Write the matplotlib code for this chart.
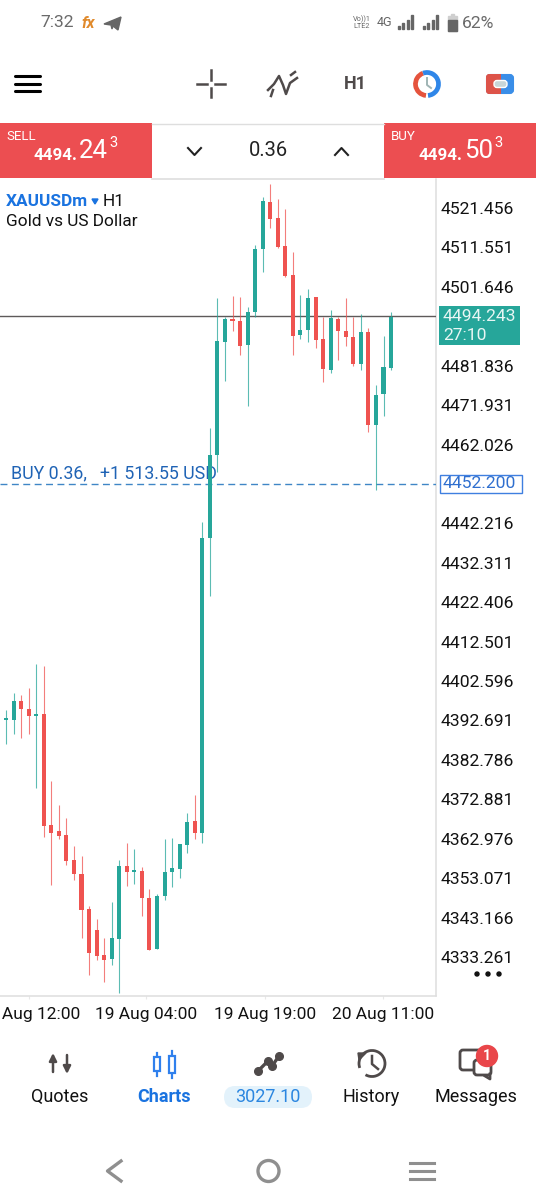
# XAUUSDm H1 mobile chart screenshot

import matplotlib
matplotlib.use('Agg')
import matplotlib.pyplot as plt
from matplotlib.patches import Arc, Circle, FancyBboxPatch, Polygon, Rectangle

plt.rcParams['font.family'] = ['Roboto', 'DejaVu Sans']

opens = [4392.7, 4392.9, 4397.7, 4395.6, 4393.9, 4394.3, 4366.4, 4364.9, 4363.8, 4357.6,
         4354.1, 4345.3, 4340.0, 4333.7, 4332.7, 4337.8, 4356.2, 4354.7, 4354.9, 4348.1,
         4335.3, 4348.6, 4354.6, 4355.4, 4361.5, 4367.4, 4364.5, 4438.5, 4459.3, 4487.9,
         4493.6, 4493.1, 4487.0, 4495.2, 4511.2, 4523.0, 4518.9, 4511.9, 4504.6, 4489.6,
         4490.8, 4499.1, 4488.5, 4480.7, 4493.6, 4490.6, 4489.1, 4482.3, 4490.3, 4466.9,
         4474.6, 4481.3]
highs = [4395.2, 4399.7, 4399.0, 4400.8, 4406.9, 4406.4, 4377.5, 4371.5, 4368.2, 4361.1,
         4358.6, 4346.2, 4342.9, 4338.0, 4347.1, 4357.6, 4361.8, 4360.3, 4355.9, 4350.3,
         4349.2, 4362.9, 4363.1, 4361.6, 4369.4, 4374.0, 4442.6, 4466.3, 4498.8, 4494.1,
         4499.3, 4499.2, 4496.7, 4512.2, 4524.3, 4527.6, 4523.7, 4521.1, 4510.3, 4499.6,
         4501.0, 4499.2, 4494.1, 4495.8, 4494.1, 4498.8, 4494.1, 4494.7, 4491.4, 4477.1,
         4489.3, 4495.3]
lows = [4386.8, 4389.4, 4388.4, 4389.3, 4375.7, 4363.3, 4351.3, 4362.8, 4356.5, 4352.6,
        4338.1, 4328.8, 4332.5, 4327.1, 4331.2, 4324.3, 4351.2, 4351.6, 4343.6, 4335.0,
        4335.3, 4347.5, 4350.8, 4353.2, 4359.5, 4363.0, 4361.8, 4424.0, 4455.2, 4478.0,
        4490.5, 4484.4, 4471.8, 4494.1, 4505.4, 4516.5, 4511.3, 4504.0, 4484.4, 4488.5,
        4487.9, 4486.2, 4477.7, 4480.1, 4483.3, 4486.9, 4481.8, 4480.7, 4465.3, 4450.6,
        4469.2, 4480.7]
closes = [4393.2, 4397.7, 4395.6, 4393.9, 4394.3, 4366.3, 4364.3, 4363.7, 4357.5, 4354.0,
          4345.1, 4334.3, 4333.6, 4332.5, 4338.0, 4356.1, 4354.6, 4354.9, 4348.0, 4335.0,
          4348.7, 4354.6, 4355.6, 4361.6, 4367.2, 4364.5, 4438.5, 4459.4, 4488.0, 4493.6,
          4493.1, 4486.8, 4495.2, 4511.1, 4523.2, 4518.8, 4511.6, 4504.3, 4489.4, 4490.8,
          4498.8, 4488.3, 4481.0, 4493.8, 4490.5, 4489.1, 4482.3, 4490.2, 4466.9, 4474.5,
          4481.5, 4494.1]

price_ticks = [4521.456, 4511.551, 4501.646, 4481.836, 4471.931, 4462.026, 4442.216, 4432.311,
               4422.406, 4412.501, 4402.596, 4392.691, 4382.786, 4372.881, 4362.976, 4353.071,
               4343.166, 4333.261]
time_ticks = [3.0, 18.6, 34.3, 49.9]
time_labels = ['18 Aug 12:00', '19 Aug 04:00', '19 Aug 19:00', '20 Aug 11:00']
current_price = 4494.243
order_price = 4452.200

UP = '#26a69a'
DOWN = '#ef5350'
BLUE = '#1a73e0'
ICON = '#4f4a4a'
LINE = '#dedede'

fig = plt.figure(figsize=(5.36, 12), dpi=100, facecolor='white')

# chart area, x: candle number, y: price
ax = fig.add_axes([0, 1 - 996 / 1200, 436 / 536, (996 - 179) / 1200])
ax.set_xlim(-6 / 7.55, 430 / 7.55)
ax.set_ylim(4521.456 - 788 / 3.98, 4521.456 + 29 / 3.98)
ax.set_zorder(1)
ax.patch.set_alpha(0)

# whole screen overlay in pixels for the app chrome
ui = fig.add_axes([0, 0, 1, 1])
ui.set_xlim(0, 536)
ui.set_ylim(1200, 0)
ui.axis('off')
ui.set_zorder(2)


def draw_candles():
    """
    Candles: wick first, then body
    """
    for i in range(len(opens)):
        color = DOWN if closes[i] < opens[i] else UP
        ax.vlines(i, lows[i], highs[i], color=color, linewidth=0.8, alpha=0.75, zorder=4)
        bottom = min(opens[i], closes[i])
        height = max(abs(closes[i] - opens[i]), 0.35)
        ax.bar(i, height, bottom=bottom, width=0.53, color=color, linewidth=0, zorder=5)


def style_axes():
    ax.yaxis.tick_right()
    ax.set_yticks(price_ticks, [f'{p:.3f}' for p in price_ticks])
    ax.set_xticks(time_ticks, time_labels)
    ax.tick_params(axis='y', length=0, pad=3.5, labelsize=12.6, labelcolor='#111111')
    ax.tick_params(axis='x', length=2, width=0.8, color='#e8e8e8', pad=6, labelsize=12.5, labelcolor='#111111')
    for side in ['top', 'left']:
        ax.spines[side].set_visible(False)
    for side in ['right', 'bottom']:
        ax.spines[side].set_color(LINE)
        ax.spines[side].set_linewidth(1.1)


def draw_price_lines():
    ax.axhline(current_price, color='#5e5a5a', linewidth=1.0, zorder=3)
    ax.axhline(order_price, color='#3f86c6', linewidth=1.0, linestyle=(0, (5, 3.2)), zorder=3)
    ui.add_patch(Rectangle((438.7, 306), 81.5, 39, facecolor=UP, edgecolor='none'))
    ui.text(443, 316.5, f'{current_price:.3f}', color='#e8f6f4', fontsize=12.6, va='center')
    ui.text(443, 336, '27:10', color='#e8f6f4', fontsize=12.6, va='center')
    ui.add_patch(Rectangle((439.8, 474.5), 82, 18.5, facecolor='white', edgecolor='#3f7fe0', linewidth=1))
    ui.text(443, 484, f'{order_price:.3f}', color='#2f6fcf', fontsize=12.6, va='center')
    # sits under the candles like in the app
    ax.text(11, 473, 'BUY 0.36,   +1 513.55 USD', transform=ui.transData, color='#1f63b5',
            fontsize=12.8, va='center', zorder=2)
    for x in [477, 488, 499]:
        ui.add_patch(Circle((x, 974), 2, color='#111111'))


def draw_chart_title():
    ui.text(6, 201, 'XAUUSDm', color=BLUE, fontsize=12.4, fontweight='bold', va='center')
    ui.add_patch(Polygon([(92, 199), (98, 199), (95, 204)], color=BLUE))
    ui.text(102.5, 201, 'H1', color='#111111', fontsize=12.4, va='center')
    ui.text(6, 222, 'Gold vs US Dollar', color='#111111', fontsize=12.4, va='center')


def draw_status_bar():
    ui.text(40, 22.5, '7:32', color='#6a6a6a', fontsize=12.6, va='center')
    ui.text(81, 23, 'fx', color='#e08a2c', fontsize=11.5, style='italic', fontweight='bold', va='center')
    ui.add_patch(Polygon([(104, 24), (121, 17), (118, 30), (113, 26), (112, 29), (111, 25)], color='#666666'))
    ui.text(353, 19, 'Vo))1', color='#666666', fontsize=5.2, va='center')
    ui.text(353, 26, 'LTE2', color='#666666', fontsize=5.2, va='center')
    ui.text(377, 23, '4G', color='#666666', fontsize=9, va='center')
    for start, tall in [(398, [3, 6, 9, 14]), (423, [3, 6, 9, 14])]:
        for n, h in enumerate(tall):
            ui.add_patch(Rectangle((start + n * 4.4, 29 - h), 2, h, color='#666666'))
    ui.add_patch(Rectangle((448, 16), 9, 14.5, color='#cfcfcf'))
    ui.add_patch(Rectangle((448, 20), 9, 10.5, color='#666666'))
    ui.add_patch(Rectangle((451, 14), 3, 2, color='#cfcfcf'))
    ui.text(462, 23, '62%', color='#6a6a6a', fontsize=12.6, va='center')


def draw_toolbar():
    for y in [76, 83.5, 91]:
        ui.plot([15, 40], [y, y], color='black', linewidth=2.2, solid_capstyle='round')
    for x0, y0, x1, y1 in [(197, 84, 207, 84), (215, 84, 225, 84), (211, 70, 211, 80), (211, 88, 211, 97)]:
        ui.plot([x0, x1], [y0, y1], color=ICON, linewidth=1.8)
    ui.plot([268, 274, 279, 283, 286, 290, 297], [90, 84, 76, 85, 94, 83, 78], color=ICON, linewidth=1.8)
    ui.plot([271, 273], [96, 90], color=ICON, linewidth=1.8)
    ui.plot([291, 295], [75, 72], color=ICON, linewidth=1.8)
    ui.text(355, 84, 'H1', color=ICON, fontsize=13, fontweight='bold', ha='center', va='center')
    ui.add_patch(Arc((427, 84), 23, 23, theta1=95, theta2=250, color='#e5533d', linewidth=3.4))
    ui.add_patch(Arc((427, 84), 23, 23, theta1=250, theta2=85, color='#2f86e8', linewidth=3.4))
    ui.plot([427, 427, 431], [78, 85, 88], color='#9fb4b4', linewidth=1.4)
    ui.add_patch(FancyBboxPatch((487, 75), 26, 18, boxstyle='round,pad=0,rounding_size=3',
                                facecolor='#3a8ee8', edgecolor='#3a8ee8', linewidth=1.5))
    ui.add_patch(FancyBboxPatch((486, 74), 14, 20, boxstyle='round,pad=0,rounding_size=3',
                                facecolor='#dd5349', edgecolor='none'))
    ui.add_patch(Rectangle((495, 74), 5.5, 20, facecolor='#dd5349', edgecolor='none'))
    ui.add_patch(FancyBboxPatch((494, 80.5), 13, 7, boxstyle='round,pad=0,rounding_size=3',
                                facecolor='#c8d6d8', edgecolor='white', linewidth=1))


def draw_price_text(x_small, small, big, sup, label, x_label):
    ui.text(x_label, 137, label, color='white', fontsize=9.5, va='center')
    ui.text(x_small, 155, small, color='white', fontsize=12.2, fontweight='bold', va='center')
    ui.text(x_small + 45, 151, big, color='white', fontsize=18.6, va='center')
    ui.text(x_small + 75, 143, sup, color='white', fontsize=10.5, va='center')


def draw_trade_bar():
    ui.add_patch(Rectangle((0, 123), 152, 55, facecolor='#ec4e51', edgecolor='none'))
    ui.add_patch(Rectangle((384, 123), 152, 55, facecolor='#ec4e51', edgecolor='none'))
    ui.plot([152, 384], [123.5, 123.5], color=LINE, linewidth=1)
    ui.plot([152, 384], [178.5, 178.5], color=LINE, linewidth=1.2)
    draw_price_text(34, '4494.', '24', '3', 'SELL', 6)
    draw_price_text(419, '4494.', '50', '3', 'BUY', 391)
    ui.plot([188, 194.5, 201], [148, 155, 148], color='#222222', linewidth=1.5)
    ui.plot([335, 341.5, 348], [155, 148, 155], color='#222222', linewidth=1.5)
    ui.text(268, 151, '0.36', color='#222222', fontsize=14.5, ha='center', va='center')


def draw_nav():
    labels = [(60, 'Quotes', '#111111', 'normal'), (164, 'Charts', BLUE, 'bold'),
              (371.5, 'History', '#111111', 'normal'), (476, 'Messages', '#111111', 'normal')]
    for x, text, color, weight in labels:
        ui.text(x, 1097, text, color=color, fontsize=13, fontweight=weight, ha='center', va='center')
    # quotes arrows
    arrow = dict(arrowstyle='-|>', color=ICON, lw=1.8, shrinkA=0, shrinkB=0, mutation_scale=11)
    ui.annotate('', xy=(53, 1053), xytext=(53, 1072), arrowprops=arrow)
    ui.annotate('', xy=(67, 1074), xytext=(67, 1055), arrowprops=arrow)
    # charts candles
    for x, y0, y1, t0, t1 in [(157, 1053, 1076, 1057, 1071), (171.5, 1051, 1078, 1056, 1073)]:
        ui.plot([x, x], [y0, y1], color='#2f80ed', linewidth=1.6)
        ui.add_patch(Rectangle((x - 3, t0), 6, t1 - t0, facecolor='white', edgecolor='#2f80ed', linewidth=1.6, zorder=3))
    # equity
    ui.add_patch(FancyBboxPatch((224, 1086), 88, 22, boxstyle='round,pad=0,rounding_size=11',
                                facecolor='#e3f2fb', edgecolor='none'))
    ui.text(268, 1097, '3027.10', color='#2b86e0', fontsize=13, ha='center', va='center')
    trend_x = [258, 268, 272, 279]
    trend_y = [1071, 1061, 1066, 1056]
    ui.plot(trend_x, trend_y, color=ICON, linewidth=2.4, marker='o', markersize=5.5)
    # history
    ui.add_patch(Arc((372, 1063.5), 26, 26, theta1=0, theta2=320, angle=-200, color=ICON, linewidth=2))
    ui.plot([372, 372, 378], [1056, 1064, 1069], color=ICON, linewidth=1.8)
    ui.add_patch(Polygon([(358, 1053), (366, 1053), (359, 1060)], color=ICON))
    # messages
    ui.add_patch(FancyBboxPatch((460, 1050), 24, 20, boxstyle='round,pad=0,rounding_size=3',
                                facecolor='white', edgecolor=ICON, linewidth=2))
    ui.add_patch(FancyBboxPatch((474, 1060), 17, 15, boxstyle='round,pad=0,rounding_size=3',
                                facecolor='white', edgecolor=ICON, linewidth=2))
    ui.plot([490, 490, 485], [1074, 1079, 1076], color=ICON, linewidth=2)
    ui.add_patch(Circle((487, 1056), 10.5, color='#e9464a', zorder=4))
    ui.text(487, 1056, '1', color='white', fontsize=10, fontweight='bold', ha='center', va='center', zorder=5)
    # android buttons
    ui.plot([121, 107.5, 121], [1161, 1171, 1181], color='#8f8f8f', linewidth=2.4)
    ui.add_patch(Circle((268.5, 1171), 10.5, facecolor='none', edgecolor='#8f8f8f', linewidth=2.4))
    for y in [1163, 1171, 1179]:
        ui.plot([410, 434], [y, y], color='#8f8f8f', linewidth=2.2)


draw_candles()
style_axes()
draw_price_lines()
draw_chart_title()
draw_status_bar()
draw_toolbar()
draw_trade_bar()
draw_nav()

fig.savefig('out.png', dpi=100)
